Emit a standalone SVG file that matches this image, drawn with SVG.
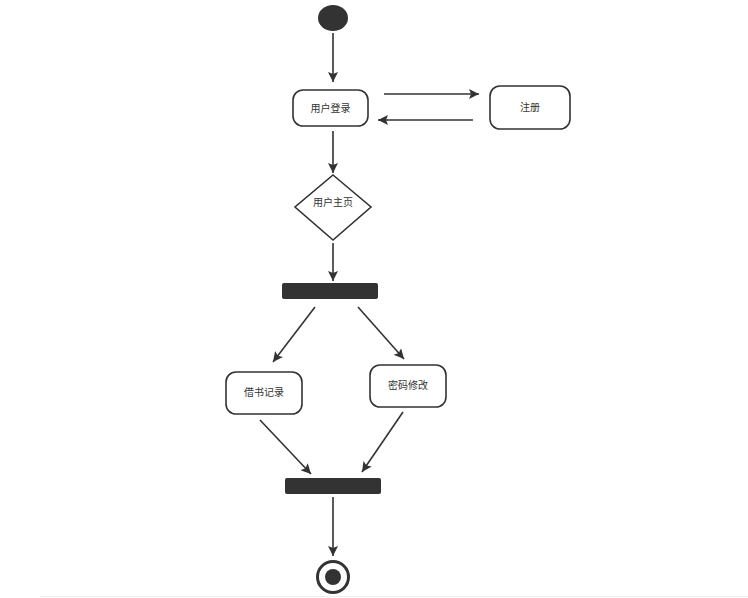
<svg xmlns="http://www.w3.org/2000/svg" width="748" height="598" viewBox="0 0 748 598">
<style>
.box{fill:#fff;stroke:#333;stroke-width:1.6}
.bar{fill:#333}
.lbl{font-family:"Noto Sans CJK SC","Liberation Sans",sans-serif;font-size:10px;fill:#333;text-anchor:middle}
.edge{stroke:#333;stroke-width:1.6;fill:none;marker-end:url(#ah)}
</style>
<defs>
<marker id="ah" viewBox="0 0 10 10" refX="10" refY="5" markerWidth="11" markerHeight="10" markerUnits="userSpaceOnUse" orient="auto">
<path d="M0,0 L10,5 L0,10 L2,5 z" fill="#333"/>
</marker>
</defs>
<rect width="748" height="598" fill="#fff"/>
<line x1="40" y1="596.5" x2="748" y2="596.5" stroke="#eee" stroke-width="1"/>
<g id="start"><ellipse cx="333" cy="18" rx="15" ry="13" fill="#333"/></g>
<g id="login"><rect class="box" x="293" y="90" width="75" height="36" rx="10"/><text class="lbl" x="330.5" y="112">用户登录</text></g>
<g id="register"><rect class="box" x="490" y="86" width="80" height="43" rx="10"/><text class="lbl" x="530" y="111">注册</text></g>
<g id="home"><polygon class="box" points="333,175 371,207 333,240 295,207"/><text class="lbl" x="333" y="206">用户主页</text></g>
<g id="fork"><rect class="bar" x="282" y="283" width="96" height="16" rx="2"/></g>
<g id="borrow"><rect class="box" x="226" y="372" width="76" height="42" rx="10"/><text class="lbl" x="264" y="396">借书记录</text></g>
<g id="password"><rect class="box" x="370" y="365" width="76" height="42" rx="10"/><text class="lbl" x="408" y="389">密码修改</text></g>
<g id="join"><rect class="bar" x="285" y="478" width="96" height="16" rx="2"/></g>
<g id="end"><circle cx="333" cy="577" r="15.5" fill="#fff" stroke="#333" stroke-width="3"/><circle cx="333" cy="577" r="8" fill="#333"/></g>
<g id="connectors">
<line class="edge" x1="333" y1="33" x2="333" y2="82"/>
<line class="edge" x1="384" y1="94" x2="479" y2="94"/>
<line class="edge" x1="473" y1="120" x2="378" y2="120"/>
<line class="edge" x1="333" y1="131" x2="333" y2="173"/>
<line class="edge" x1="333" y1="243" x2="333" y2="281"/>
<line class="edge" x1="315" y1="307" x2="273" y2="362"/>
<line class="edge" x1="358" y1="307" x2="404" y2="359"/>
<line class="edge" x1="260" y1="420" x2="311" y2="474"/>
<line class="edge" x1="403" y1="412" x2="362" y2="472"/>
<line class="edge" x1="333" y1="497" x2="333" y2="556"/>
</g>
</svg>
